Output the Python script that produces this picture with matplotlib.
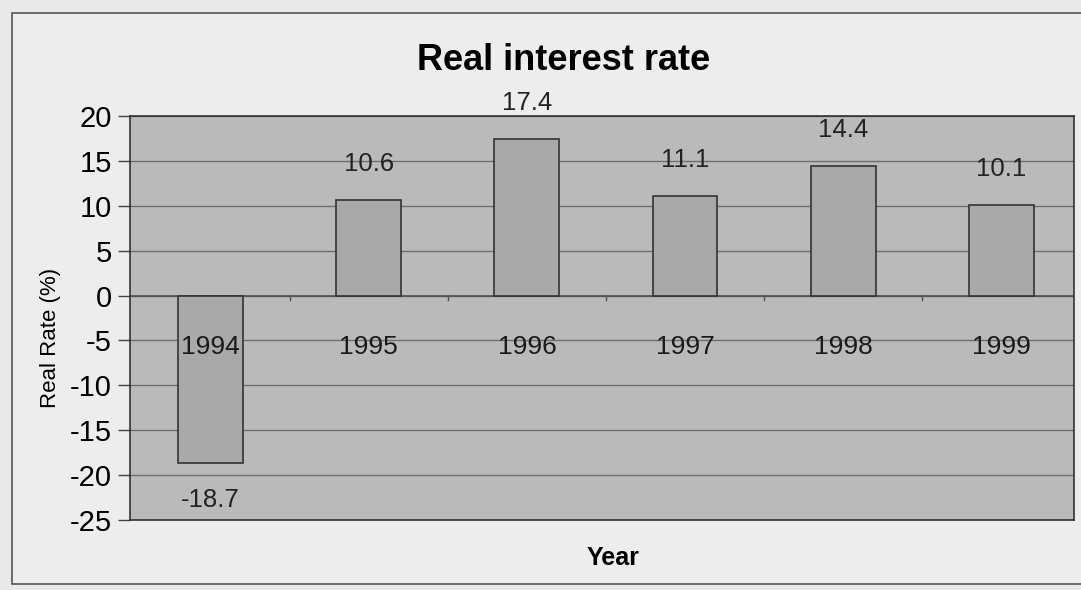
import numpy as np
import matplotlib.pyplot as plt
from matplotlib.patches import Rectangle

years = ['1994', '1995', '1996', '1997', '1998', '1999']
real_rate = [-18.7, 10.6, 17.4, 11.1, 14.4, 10.1]
y_ticks = [-25, -20, -15, -10, -5, 0, 5, 10, 15, 20]

plt.rcParams['font.family'] = ['Liberation Sans', 'DejaVu Sans']

fig = plt.figure(figsize=(10.81, 5.90), dpi=100)
fig.patch.set_facecolor('#e9e9e9')

# outer chart frame
fig.patches.append(Rectangle((12 / 1081, 6 / 590), 1.0, 571 / 590, transform=fig.transFigure,
                             facecolor='#ededed', edgecolor='#555555', lw=1.2, zorder=-5))

ax = fig.add_axes([130 / 1081, 70 / 590, 944 / 1081, 404 / 590])
ax.set_zorder(2)
ax.set_facecolor('#bababa')

x = np.arange(len(years))
ax.bar(x, real_rate, width=0.41, color='#a9a9a9', edgecolor='#333333', lw=1.2, zorder=3)

ax.set_xlim(-0.51, 5.46)
ax.set_ylim(-25, 20)
ax.set_yticks(y_ticks)
ax.set_yticklabels([str(t) for t in y_ticks], fontsize=21)
ax.tick_params(axis='y', length=9, width=1, color='#444444', pad=4)

ax.set_xticks([])

# horizontal gridlines
for t in y_ticks:
    ax.axhline(t, color='#6e6e6e', lw=1, zorder=1)
ax.axhline(0, color='#505050', lw=1.2, zorder=2)
for b in np.arange(0.5, len(years) - 0.5, 1):
    ax.plot([b, b], [0, -0.5], color='#505050', lw=1, zorder=2)

for s in ax.spines.values():
    s.set_color('#333333')
    s.set_linewidth(1.2)

# category labels near the zero line
for i, yr in enumerate(years):
    ax.annotate(yr, (i, 0), xytext=(0, -37), textcoords='offset points',
                ha='center', va='center', fontsize=19, color='#1a1a1a', zorder=5)

# value labels
for i, v in enumerate(real_rate):
    off = 26 if v > 0 else -26
    ax.annotate(f'{v:.1f}', (i, v), xytext=(0, off), textcoords='offset points',
                ha='center', va='center', fontsize=18.5, color='#222222', zorder=5)

ax.set_ylabel('Real Rate (%)', fontsize=16)
ax.yaxis.set_label_coords(-0.073, 0.45)

fig.text(613 / 1081, 1 - 558 / 590, 'Year', fontsize=18, fontweight='bold', ha='center', va='center')
fig.text(564 / 1081, 1 - 60 / 590, 'Real interest rate', fontsize=26, fontweight='bold',
         ha='center', va='center')

plt.savefig('out.png', dpi=100, facecolor=fig.get_facecolor())
